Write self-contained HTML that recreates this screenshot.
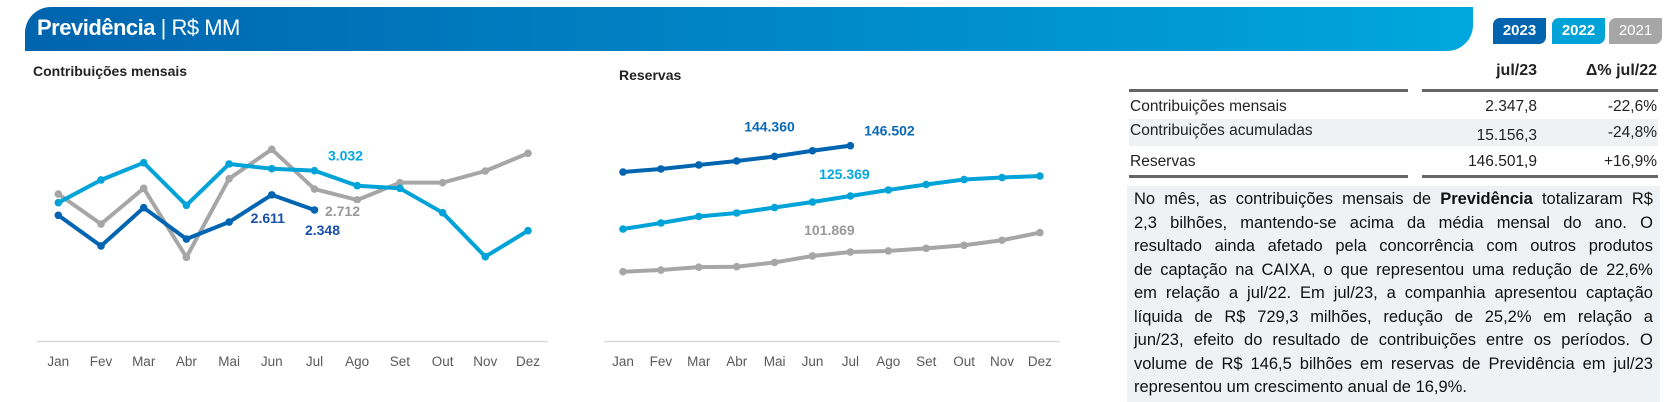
<!DOCTYPE html>
<html><head><meta charset="utf-8">
<style>
body{margin:0;width:1677px;height:402px;overflow:hidden;background:#fff;font-family:"Liberation Sans",sans-serif;position:relative}
.abs{position:absolute}
#header{left:25px;top:7px;width:1448px;height:44px;background:linear-gradient(90deg,#0064ae,#00a7de);border-radius:26px 0 26px 0}
#header span{position:absolute;left:12px;top:8px;color:#fff;font-size:22px;letter-spacing:-0.5px;white-space:nowrap}
.leg{top:18px;width:53px;height:26px;border-radius:7px 0 7px 0;color:#fff;font-size:15px;font-weight:bold;text-align:center;line-height:26px}
.th{top:62px;font-size:16px;font-weight:bold;color:#222;text-align:right}
.row{left:1129px;width:529px;height:27px;font-size:15.5px;color:#222}
.row div{position:absolute;top:5px}
#textbox{left:1127px;top:186px;width:533px;height:216px;background:#eef2f4}
#textbox div{position:absolute;left:7px;width:519px;font-size:16.5px;color:#111;text-align:justify;text-align-last:justify;white-space:nowrap;display:flex;justify-content:space-between}
</style></head><body>
<div id="header" class="abs"><span><b>Previdência</b> | R$ MM</span></div>
<div class="abs leg" style="left:1493px;background:#0064ae">2023</div>
<div class="abs leg" style="left:1552px;background:#00a3d8">2022</div>
<div class="abs leg" style="left:1609px;background:#a6a6a6;font-weight:normal">2021</div>

<div class="abs th" style="left:1437px;width:100px">jul/23</div>
<div class="abs th" style="left:1537px;width:120px">Δ% jul/22</div>
<div class="abs" style="left:1129px;top:89px;width:279px;height:3px;background:#666"></div>
<div class="abs" style="left:1422px;top:89px;width:236px;height:3px;background:#666"></div>
<div class="abs row" style="top:93px"><div style="left:1px">Contribuições mensais</div><div style="right:121px">2.347,8</div><div style="right:1px">-22,6%</div></div>
<div class="abs row" style="top:119px;background:#eef2f4"><div style="left:1px;top:3px">Contribuições acumuladas</div><div style="right:121px;top:8px">15.156,3</div><div style="right:1px">-24,8%</div></div>
<div class="abs row" style="top:148px"><div style="left:1px">Reservas</div><div style="right:121px">146.501,9</div><div style="right:1px">+16,9%</div></div>
<div class="abs" style="left:1129px;top:175px;width:279px;height:3px;background:#666"></div>
<div class="abs" style="left:1422px;top:175px;width:236px;height:3px;background:#666"></div>

<div id="textbox" class="abs">
<div style="top:4px"><span>No</span><span>mês,</span><span>as</span><span>contribuições</span><span>mensais</span><span>de</span><b>Previdência</b><span>totalizaram</span><span>R$</span></div>
<div style="top:27.5px"><span>2,3</span><span>bilhões,</span><span>mantendo-se</span><span>acima</span><span>da</span><span>média</span><span>mensal</span><span>do</span><span>ano.</span><span>O</span></div>
<div style="top:51px"><span>resultado</span><span>ainda</span><span>afetado</span><span>pela</span><span>concorrência</span><span>com</span><span>outros</span><span>produtos</span></div>
<div style="top:74.5px"><span>de</span><span>captação</span><span>na</span><span>CAIXA,</span><span>o</span><span>que</span><span>representou</span><span>uma</span><span>redução</span><span>de</span><span>22,6%</span></div>
<div style="top:98px"><span>em</span><span>relação</span><span>a</span><span>jul/22.</span><span>Em</span><span>jul/23,</span><span>a</span><span>companhia</span><span>apresentou</span><span>captação</span></div>
<div style="top:121.5px"><span>líquida</span><span>de</span><span>R$</span><span>729,3</span><span>milhões,</span><span>redução</span><span>de</span><span>25,2%</span><span>em</span><span>relação</span><span>a</span></div>
<div style="top:145px"><span>jun/23,</span><span>efeito</span><span>do</span><span>resultado</span><span>de</span><span>contribuições</span><span>entre</span><span>os</span><span>períodos.</span><span>O</span></div>
<div style="top:168.5px"><span>volume</span><span>de</span><span>R$</span><span>146,5</span><span>bilhões</span><span>em</span><span>reservas</span><span>de</span><span>Previdência</span><span>em</span><span>jul/23</span></div>
<div style="top:192px;text-align-last:left;justify-content:flex-start">representou um crescimento anual de 16,9%.</div>
</div>

<svg id="charts" class="abs" style="left:0;top:0" width="1120" height="402">
<text x="33" y="76" font-size="14" font-weight="bold" fill="#222" font-family="Liberation Sans">Contribuições mensais</text>
<text x="619" y="80" font-size="14" font-weight="bold" fill="#222" font-family="Liberation Sans">Reservas</text>
</svg>

<script>
const months = ["Jan","Fev","Mar","Abr","Mai","Jun","Jul","Ago","Set","Out","Nov","Dez"];
const contrib2023 = [2256,1722,2388,1843,2139,2611,2348];
const contrib2022 = [2475,2870,3170,2430,3148,3066,3032,2770,2725,2301,1536,1988];
const contrib2021 = [2626,2104,2725,1525,2892,3403,2712,2522,2823,2823,3026,3334];
const contribLabels = [["2.611","2023",5],["2.348","2023",6],["3.032","2022",6],["2.712","2021",6]];
const reserv2023 = [135.44,136.7,138.4,140.06,141.95,144.36,146.502];
const reserv2022 = [111.52,114.04,116.77,118.24,120.54,122.85,125.369,127.89,130.2,132.29,133.13,133.76];
const reserv2021 = [93.6,94.3,95.5,95.7,97.5,100.2,101.869,102.3,103.4,104.7,106.8,110.0];
const reservLabels = [["144.360","2023",5],["146.502","2023",6],["125.369","2022",6],["101.869","2021",6]];

const NS = "http://www.w3.org/2000/svg";
const svg = document.getElementById("charts");
const colors = {"2023":"#0064b0","2022":"#00a3d8","2021":"#a6a6a6"};
function mk(tag, attrs){const e=document.createElementNS(NS,tag);for(const k in attrs)e.setAttribute(k,attrs[k]);svg.appendChild(e);return e;}

const x1 = i => 58.3 + i*42.7;
const y1 = v => 345 - v*0.0575;
const x2 = i => 623 + i*37.9;
const y2 = v => 196 - (v-125.369)*2.383;

function drawAxis(xf, x0, xEnd, name){
  const l = mk("line",{x1:x0,x2:xEnd,y1:341.5,y2:341.5,stroke:"#d9d9d9","stroke-width":1.5});
  
  
  months.forEach((m,i)=>{
    const t = mk("text",{x:xf(i),y:366,"text-anchor":"middle","font-size":13.5,fill:"#595959","font-family":"Liberation Sans"});
    t.textContent = m;
    
    
  });
}
drawAxis(x1, 37, 548, "chart1");
drawAxis(x2, 604, 1060, "chart2");

function drawSeries(vals, xf, yf, color, name){
  const pts = vals.map((v,i)=>xf(i)+","+yf(v)).join(" ");
  const p = mk("polyline",{points:pts,fill:"none",stroke:color,"stroke-width":4,"stroke-linejoin":"round"});
  
  
  vals.forEach((v,i)=>{
    const c = mk("circle",{cx:xf(i),cy:yf(v),r:3.8,fill:color});
    
    
  });
}
drawSeries(contrib2021, x1, y1, colors["2021"], "contrib-2021");
drawSeries(contrib2022, x1, y1, colors["2022"], "contrib-2022");
drawSeries(contrib2023, x1, y1, colors["2023"], "contrib-2023");
drawSeries(reserv2021, x2, y2, colors["2021"], "reserv-2021");
drawSeries(reserv2022, x2, y2, colors["2022"], "reserv-2022");
drawSeries(reserv2023, x2, y2, colors["2023"], "reserv-2023");

const series1 = {"2023":contrib2023,"2022":contrib2022,"2021":contrib2021};
const series2 = {"2023":reserv2023,"2022":reserv2022,"2021":reserv2021};
const labelOff1 = {"2.611":[-4,28],"2.348":[8,25],"3.032":[31,-10],"2.712":[28,27]};
const labelOff2 = {"144.360":[-43,-19],"146.502":[39,-10],"125.369":[-6,-17],"101.869":[-21,-17]};
const labelColor = {"2023":"#1750a8","2022":"#00a8e0","2021":"#999999"};
function drawLabels(list, series, xf, yf, offs, name){
  list.forEach(([txt,yr,i])=>{
    const [dx,dy] = offs[txt];
    const cx = xf(i)+dx, cy = yf(series[yr][i])+dy;
    if(txt==="2.712"){
      const r = mk("rect",{x:cx-20,y:cy-13,width:42,height:17,fill:"#fff"});
      
      
    }
    const col = (name==="chart2" && yr==="2023") ? "#0a6ab8" : labelColor[yr];
    const t = mk("text",{x:cx,y:cy,"text-anchor":"middle","font-size":14,"font-weight":"bold",fill:col,"font-family":"Liberation Sans"});
    t.textContent = txt;
    
    
  });
}
drawLabels(contribLabels, series1, x1, y1, labelOff1, "chart1");
drawLabels(reservLabels, series2, x2, y2, labelOff2, "chart2");
</script>
</body></html>
